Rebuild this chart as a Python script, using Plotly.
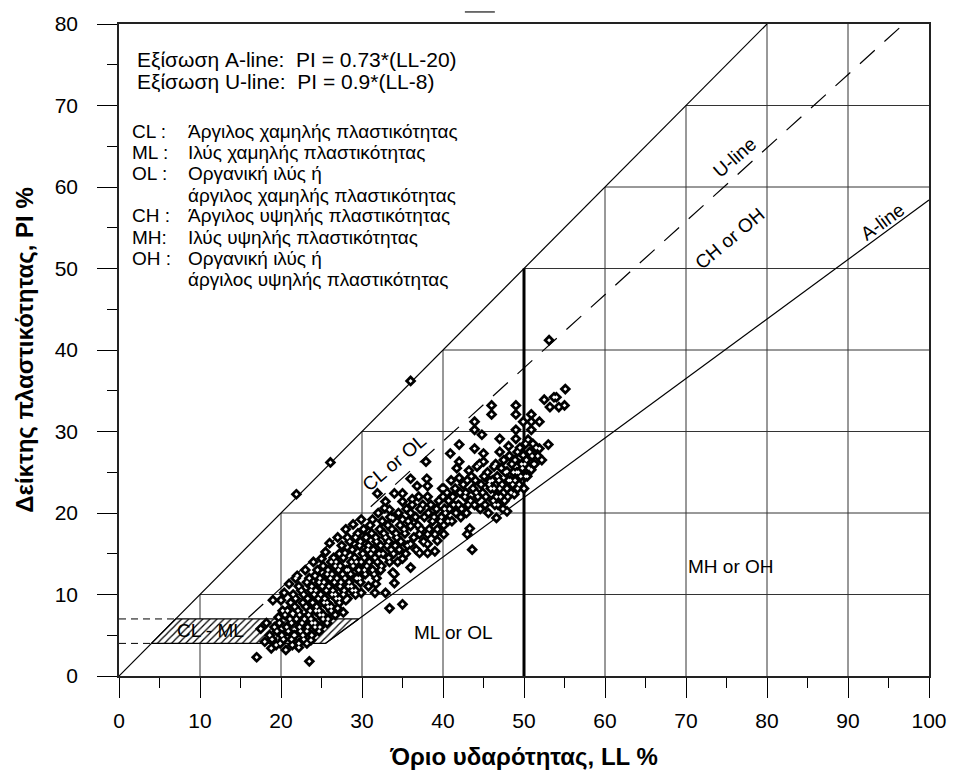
import plotly.graph_objects as go

# ---------------- data ----------------
ll_values = [
    17.0, 17.5,
    18.0, 18.2, 18.8, 18.6,
    19.0, 19.2, 18.9, 19.5, 19.7, 19.4,
    20.0, 20.2, 19.8, 20.1, 19.9,
    20.5, 20.7, 20.3, 20.6, 20.4,
    21.0, 21.2, 20.8, 21.1, 20.9, 21.3,
    21.5, 21.7, 21.3, 21.6, 21.4, 21.8,
    21.9, 22.0, 22.2, 21.8, 22.1, 21.9, 22.3, 21.7, 22.2,
    22.5, 22.7, 22.3, 22.6, 22.4, 22.8, 22.2,
    23.0, 23.2, 22.8, 23.1, 22.9, 23.3, 22.7, 23.2,
    23.5, 23.5, 23.7, 23.3, 23.6, 23.4, 23.8, 23.2, 23.7,
    24.0, 24.2, 23.8, 24.1, 23.9, 24.3, 23.7, 24.2, 23.8,
    24.5, 24.7, 24.3, 24.6, 24.4, 24.8, 24.2, 24.7,
    25.0, 25.2, 24.8, 25.1, 24.9, 25.3, 24.7, 25.2, 24.8,
    25.5, 25.7, 25.3, 25.6, 25.4, 25.8, 25.2, 25.7,
    26.1, 26.0, 26.2, 25.8, 26.1, 25.9, 26.3, 25.7, 26.2, 25.8,
    26.5, 26.7, 26.3, 26.6, 26.4, 26.8, 26.2, 26.7,
    27.0, 27.2, 26.8, 27.1, 26.9, 27.3, 26.7, 27.2, 27.0,
    27.5, 27.7, 27.3, 27.6, 27.4, 27.8, 27.2, 27.7,
    28.0, 28.2, 27.9, 28.1, 27.9, 28.3, 27.7, 28.0,
    28.5, 28.7, 28.3, 28.6, 28.4, 28.8, 28.2,
    28.9, 29.2, 28.8, 29.1, 28.9, 29.3, 28.7, 29.2,
    29.5, 29.7, 29.3, 29.6, 29.4, 29.8, 29.2,
    29.9, 30.2, 29.8, 30.1, 29.9, 30.3, 29.7, 29.9,
    30.5, 30.7, 30.3, 30.6, 30.4, 30.8,
    31.0, 31.2, 30.8, 31.1, 30.9, 31.3, 31.7, 31.6,
    31.3, 31.7, 31.4, 31.6, 31.5,
    31.9, 32.0, 32.2, 31.8, 32.1, 31.9, 32.3, 31.8,
    32.5, 32.7, 32.3, 32.6, 32.4,
    32.9, 32.8, 33.2, 32.9, 33.1, 33.3, 32.9,
    33.4, 33.4,
    33.5, 33.7, 33.3, 33.6, 33.4, 33.8,
    34.0, 33.8, 34.2, 34.1, 33.9, 34.0, 34.0,
    34.5, 34.7, 34.3, 34.6, 34.4,
    35.0, 35.0, 35.0, 35.2, 34.8, 35.0, 35.0,
    35.5, 35.7, 35.3, 35.6, 35.4,
    36.0, 36.0, 36.2, 36.0, 36.0, 36.0, 36.0,
    36.8, 36.2, 36.6, 36.4, 36.7,
    37.0, 37.2, 36.9, 37.1, 37.1,
    37.5, 37.7, 37.3, 37.6,
    37.9, 38.0, 38.1, 38.1, 38.2, 38.1, 38.1, 38.1,
    38.5, 38.7, 38.3,
    39.9, 39.2, 38.9, 39.0, 39.0,
    39.5, 39.7, 39.3, 39.3,
    40.1, 40.0, 40.2, 39.8, 40.1, 40.1,
    40.5, 40.7, 40.3, 40.6,
    40.9, 41.0, 41.2, 40.8, 41.1,
    41.7, 41.5, 41.3, 41.6,
    42.0, 42.0, 42.0, 42.1, 41.9, 42.2,
    42.5, 42.7, 42.3,
    43.2, 43.0, 42.8, 43.1, 42.9, 43.0,
    43.5, 43.7, 43.4, 43.3, 43.6,
    43.9, 43.9, 43.9, 44.2, 44.0, 44.1, 43.9,
    44.5, 44.7, 44.3, 44.6,
    44.8, 45.0, 45.0, 45.1, 45.8, 44.9, 45.2,
    45.5, 45.7, 45.3, 45.6,
    46.0, 46.0, 46.3, 46.1, 45.9, 46.2, 46.6,
    46.5, 46.7, 46.3, 46.6, 46.4,
    47.0, 47.0, 47.2, 46.9, 47.0, 47.1, 46.8,
    47.5, 47.7, 47.3, 47.6, 47.4,
    48.1, 48.2, 47.9, 48.1, 47.9, 48.0, 47.9,
    48.5, 48.7, 48.3, 48.6, 48.4,
    49.0, 49.0, 49.0, 49.0, 49.2, 48.9, 49.1, 48.9, 49.2, 48.8,
    49.5, 49.7, 49.3, 49.6, 49.4,
    49.9, 50.2, 49.9, 50.1, 49.8, 50.2, 50.0,
    50.5, 50.7, 50.3, 50.6, 50.4,
    50.9, 50.9, 50.9, 51.1, 51.0, 51.2, 50.9,
    51.5, 51.7, 51.3,
    51.9, 51.9, 52.2,
    52.5,
    53.1, 53.2, 53.0,
    53.7,
    54.0, 54.3,
    55.1, 55.0,
]

pi_values = [
    2.3, 5.8,
    4.2, 6.5, 3.4, 5.0,
    9.3, 6.0, 4.5, 5.5, 7.2, 3.8,
    9.3, 8.0, 6.5, 5.0, 4.0,
    7.5, 6.0, 4.5, 3.2, 10.2,
    11.3, 9.0, 8.0, 7.0, 5.5, 4.5,
    10.0, 8.5, 6.5, 5.0, 3.8, 12.0,
    22.3, 12.3, 11.0, 9.5, 8.0, 7.0, 6.0, 5.0, 4.0,
    10.5, 9.0, 7.5, 6.5, 5.5, 4.5, 3.5,
    13.0, 11.5, 10.0, 8.5, 7.0, 6.0, 5.0, 4.0,
    1.8, 12.0, 10.5, 9.5, 8.0, 7.5, 6.5, 5.5, 4.4,
    14.0, 12.3, 11.0, 10.0, 9.0, 8.0, 7.0, 6.0, 5.0,
    13.0, 11.5, 10.5, 9.5, 8.5, 7.5, 6.5, 5.5,
    14.4, 13.5, 12.0, 11.0, 10.0, 9.0, 8.0, 7.0, 6.0,
    15.2, 12.5, 11.5, 10.5, 9.5, 8.5, 7.5, 6.5,
    26.2, 16.3, 14.0, 13.0, 12.0, 11.0, 10.0, 9.0, 8.0, 7.0,
    14.5, 13.5, 12.5, 11.5, 10.5, 9.5, 8.5, 7.5,
    17.0, 15.0, 14.0, 13.0, 12.0, 11.0, 10.0, 9.0, 8.3,
    16.0, 14.5, 13.5, 12.5, 11.5, 10.5, 9.5, 7.8,
    18.0, 17.0, 15.1, 13.0, 12.0, 11.0, 10.0, 9.3,
    16.5, 14.0, 13.0, 12.5, 11.5, 10.5, 9.5,
    18.6, 17.0, 15.5, 14.5, 13.5, 12.0, 11.0, 10.0,
    17.5, 16.0, 14.0, 13.0, 12.0, 11.5, 10.5,
    19.2, 18.0, 16.5, 15.0, 14.0, 13.0, 12.0, 10.2,
    17.0, 15.5, 14.5, 13.5, 12.5, 11.0,
    18.5, 17.5, 16.0, 15.0, 14.0, 13.0, 11.3, 10.2,
    19.2, 17.0, 15.5, 14.5, 12.5,
    22.4, 20.0, 18.0, 16.5, 15.0, 14.0, 13.0, 12.0,
    19.0, 17.5, 16.0, 15.0, 13.5,
    21.4, 20.6, 18.5, 17.0, 16.0, 14.5, 10.2,
    8.3, 20.4,
    19.5, 18.0, 16.5, 15.5, 14.0, 12.7,
    22.4, 19.4, 17.5, 16.0, 15.0, 12.5, 11.4,
    20.0, 18.5, 17.0, 15.5, 14.0,
    22.4, 21.4, 19.2, 18.0, 16.5, 14.4, 8.8,
    20.5, 19.0, 17.5, 16.0, 15.0,
    36.2, 24.2, 21.0, 20.0, 18.4, 16.2, 13.3,
    23.3, 21.7, 19.5, 17.0, 15.5,
    22.0, 20.5, 18.5, 17.4, 15.1,
    21.0, 19.5, 18.0, 16.5,
    26.3, 24.2, 23.3, 22.0, 20.0, 17.4, 16.2, 15.1,
    21.0, 19.0, 18.0,
    23.0, 20.5, 19.5, 17.4, 15.3,
    21.5, 19.0, 18.0, 16.6,
    23.0, 22.0, 20.5, 19.5, 18.5, 17.4,
    22.5, 21.5, 20.0, 19.0,
    27.3, 24.0, 22.0, 20.5, 19.0,
    25.5, 23.0, 21.0, 20.0,
    28.4, 26.3, 24.3, 22.5, 21.0, 19.5,
    23.5, 22.0, 20.5,
    25.2, 24.0, 22.5, 21.0, 20.0, 17.4,
    24.5, 23.0, 21.5, 18.1, 15.5,
    31.2, 30.2, 27.9, 25.7, 24.0, 22.5, 21.0,
    26.0, 23.5, 22.0, 20.5,
    29.6, 27.3, 26.3, 24.5, 23.9, 22.5, 21.0,
    25.0, 23.5, 22.0, 20.0,
    33.2, 32.1, 25.7, 24.0, 23.0, 21.5, 19.4,
    26.0, 24.5, 23.0, 22.0, 21.0,
    29.1, 27.5, 25.5, 24.0, 23.0, 22.0, 21.0,
    26.5, 25.0, 23.5, 21.5, 20.5,
    28.2, 27.0, 25.1, 24.0, 23.0, 22.0, 20.2,
    26.0, 25.0, 24.0, 23.5, 22.5,
    33.2, 32.1, 30.2, 29.1, 27.5, 26.5, 25.0, 24.0, 23.0, 22.3,
    28.0, 26.0, 25.0, 24.5, 23.5,
    31.2, 28.5, 27.1, 26.0, 25.5, 24.5, 23.0,
    29.0, 27.5, 26.5, 25.5, 24.5,
    32.1, 31.2, 30.2, 28.5, 27.0, 26.0, 25.3,
    28.0, 27.0, 26.0,
    31.2, 27.9, 26.5,
    33.9,
    41.2, 33.0, 28.4,
    34.2,
    34.2, 33.0,
    35.2, 33.2,
]

assert len(ll_values) == len(pi_values), (len(ll_values), len(pi_values))

# chart constants
a_slope, a_offset = 0.73, 20.0     # A-line: PI = 0.73*(LL-20)
u_slope, u_offset = 0.9, 8.0       # U-line: PI = 0.9*(LL-8)
clml_low, clml_high = 4.0, 7.0     # CL-ML band
ll_split = 50.0
x_ticks = [0, 10, 20, 30, 40, 50, 60, 70, 80, 90, 100]
y_ticks = [0, 10, 20, 30, 40, 50, 60, 70, 80]

equations = [
    "Εξίσωση A-line:\u00a0\u00a0PI = 0.73*(LL-20)",
    "Εξίσωση U-line:\u00a0\u00a0PI = 0.9*(LL-8)",
]
legend_abbr = ["CL :", "ML :", "OL :", "", "CH :", "MH:", "OH :", ""]
legend_desc = [
    "Άργιλος χαμηλής πλαστικότητας",
    "Ιλύς χαμηλής πλαστικότητας",
    "Οργανική ιλύς ή",
    "άργιλος χαμηλής πλαστικότητας",
    "Άργιλος υψηλής πλαστικότητας",
    "Ιλύς υψηλής πλαστικότητας",
    "Οργανική ιλύς ή",
    "άργιλος υψηλής πλαστικότητας",
]

FONT = "Liberation Sans, Arial, sans-serif"
BLACK = "#000000"
GRID = "#333333"

fig = go.Figure()

# ---------- staircase grid ----------
for k in x_ticks[1:-1]:
    fig.add_shape(type="line", x0=k, x1=k, y0=0, y1=min(k, 80),
                  xref="x", yref="y", line=dict(color=GRID, width=1), layer="below")
for k in y_ticks[1:-1]:
    fig.add_shape(type="line", x0=k, x1=100, y0=k, y1=k,
                  xref="x", yref="y", line=dict(color=GRID, width=1), layer="below")

# ---------- CL-ML hatched zone ----------
ll_low_a = clml_low / a_slope + a_offset
ll_high_a = clml_high / a_slope + a_offset
fig.add_trace(go.Scatter(
    x=[clml_low, ll_low_a, ll_high_a, clml_high, clml_low],
    y=[clml_low, clml_low, clml_high, clml_high, clml_low],
    mode="lines", fill="toself", fillcolor="white",
    fillpattern=dict(shape="/", fgcolor=BLACK, bgcolor="white", fgopacity=1,
                     size=5, solidity=0.25),
    line=dict(color=BLACK, width=1.3), hoverinfo="skip", showlegend=False))

# dashed extensions of the band to the PI axis
for v in (clml_low, clml_high):
    fig.add_trace(go.Scatter(x=[0, v], y=[v, v], mode="lines",
                             line=dict(color=BLACK, width=1, dash="7px,5px"),
                             hoverinfo="skip", showlegend=False))

# PI = LL line
fig.add_trace(go.Scatter(x=[0, 80], y=[0, 80], mode="lines",
                         line=dict(color=BLACK, width=1.2), hoverinfo="skip", showlegend=False))

# A-line
fig.add_trace(go.Scatter(x=[ll_low_a, 100], y=[clml_low, a_slope * (100 - a_offset)],
                         mode="lines", line=dict(color=BLACK, width=1.2),
                         hoverinfo="skip", showlegend=False))

# U-line
u_start = clml_high / u_slope + u_offset + 0.2
u_end = 80 / u_slope + u_offset
fig.add_trace(go.Scatter(x=[u_start, u_end], y=[u_slope * (u_start - u_offset), 80],
                         mode="lines", line=dict(color=BLACK, width=1.2, dash="20px,13px"),
                         hoverinfo="skip", showlegend=False))

# LL = 50 bold divider
fig.add_trace(go.Scatter(x=[ll_split, ll_split], y=[0, ll_split], mode="lines",
                         line=dict(color=BLACK, width=3), hoverinfo="skip", showlegend=False))

# ---------- samples: black diamonds with a small white centre ----------
fig.add_trace(go.Scatter(
    x=ll_values, y=pi_values, mode="markers",
    marker=dict(symbol="diamond", size=9, color=BLACK, line=dict(width=0)),
    showlegend=False))
fig.add_trace(go.Scatter(
    x=ll_values, y=pi_values, mode="markers",
    marker=dict(symbol="diamond", size=3, color="white", line=dict(width=0)),
    hoverinfo="skip", showlegend=False))

# ---------- texts ----------
for txt, yy in zip(equations, [75.7, 73.0]):
    fig.add_annotation(x=1.96, y=yy, text=txt, xref="x", yref="y", xanchor="left",
                       yanchor="middle", showarrow=False,
                       font=dict(family=FONT, size=21, color=BLACK))

rows_y = [66.8, 64.25, 61.6, 59.0, 56.45, 53.85, 51.2, 48.6]
for ab, desc, yy in zip(legend_abbr, legend_desc, rows_y):
    if ab:
        fig.add_annotation(x=1.35, y=yy, text=ab, xref="x", yref="y", xanchor="left",
                           yanchor="middle", showarrow=False,
                           font=dict(family=FONT, size=19, color=BLACK))
    fig.add_annotation(x=8.32, y=yy, text=desc, xref="x", yref="y", xanchor="left",
                       yanchor="middle", showarrow=False,
                       font=dict(family=FONT, size=19, color=BLACK))

zone_labels = [
    dict(x=76.0, y=63.6, text="U-line", textangle=-41),
    dict(x=75.4, y=53.7, text="CH or OH", textangle=-40),
    dict(x=94.3, y=55.8, text="A-line", textangle=-36),
    dict(x=34.0, y=26.2, text="CL or OL", textangle=-40),
    dict(x=41.3, y=5.3, text="ML or OL", textangle=0),
    dict(x=75.6, y=13.4, text="MH or OH", textangle=0),
    dict(x=11.3, y=5.6, text="CL - ML", textangle=0),
]
for z in zone_labels:
    z.update(xref="x", yref="y", xanchor="center", yanchor="middle", showarrow=False,
             font=dict(family=FONT, size=19, color=BLACK))
    fig.add_annotation(**z)

# small mark above the frame
fig.add_shape(type="line", xref="paper", yref="paper", x0=0.427, x1=0.464,
              y0=1.0185, y1=1.0185, line=dict(color="#444444", width=1.5))

axis_common = dict(
    showgrid=False, zeroline=False, showline=True, linecolor="#222222", linewidth=1.5,
    mirror=True, ticks="outside", ticklen=20, tickwidth=1, tickcolor=BLACK,
    tickfont=dict(family=FONT, size=21, color=BLACK),
    minor=dict(ticks="outside", ticklen=10, tickwidth=1, tickcolor=BLACK, dtick=5),
)

fig.update_layout(
    width=959, height=779,
    margin=dict(l=119, r=23, t=19, b=103),
    paper_bgcolor="white", plot_bgcolor="white",
    showlegend=False,
    xaxis=dict(range=[0, 100], tickmode="array", tickvals=x_ticks, ticklabelstandoff=5,
               title=dict(text="<b>Όριο υδαρότητας, LL %</b>",
                          font=dict(family=FONT, size=24, color=BLACK), standoff=17),
               **axis_common),
    yaxis=dict(range=[0, 80], tickmode="array", tickvals=y_ticks, ticklabelstandoff=15,
               title=dict(text="<b>Δείκτης πλαστικότητας, PI %</b>",
                          font=dict(family=FONT, size=24, color=BLACK), standoff=14),
               **axis_common),
)

fig.write_html("out.html")
